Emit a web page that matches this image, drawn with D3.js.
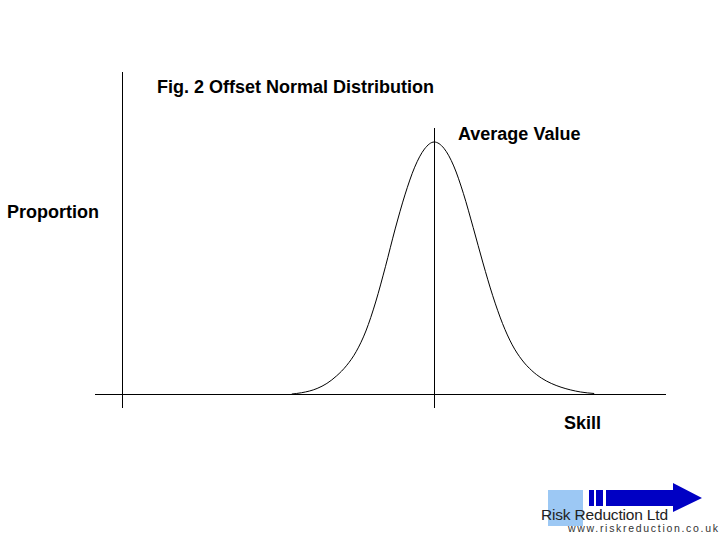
<!DOCTYPE html>
<html><head><meta charset="utf-8">
<script src="https://cdn.jsdelivr.net/npm/d3@7"></script>
<style>body{margin:0;background:#fff}svg{display:block}text{font-family:"Liberation Sans",Arial,sans-serif}</style>
</head><body>
<svg id="c" width="720" height="540"></svg>
<script>
// Skill (in standard deviations from the average) and proportion
const skill = [-3.65,-3.4,-3,-2.75,-2.5,-2.25,-2,-1.75,-1.5,-1.25,-1,-0.75,-0.5,-0.25,0,0.25,0.5,0.75,1,1.25,1.5,1.75,2,2.25,2.5,2.75,3,3.25,3.5,3.75,4.1];
const proportion = [0,0.005,0.022,0.042,0.072,0.112,0.168,0.25,0.365,0.505,0.655,0.79,0.9,0.972,1,0.975,0.905,0.795,0.66,0.52,0.39,0.28,0.195,0.135,0.093,0.063,0.042,0.027,0.016,0.008,0.002];
const averageValue = 0;
const labels = {title:"Fig. 2 Offset Normal Distribution", avg:"Average Value", y:"Proportion", x:"Skill"};

const svg = d3.select("#c");
const x = d3.scaleLinear().domain([-8, 5.94]).range([122, 666]);
const y = d3.scaleLinear().domain([0, 1]).range([394, 142]);

// axes
svg.append("line").attr("x1",122.5).attr("x2",122.5).attr("y1",72).attr("y2",408).attr("stroke","#000");
svg.append("line").attr("x1",95).attr("x2",666).attr("y1",y(0)+0.5).attr("y2",y(0)+0.5).attr("stroke","#000");
const ax = Math.round(x(averageValue))+0.5;
svg.append("line").attr("x1",ax).attr("x2",ax).attr("y1",128).attr("y2",408).attr("stroke","#000");

const line = d3.line().x((d,i)=>x(skill[i])).y(d=>y(d)).curve(d3.curveMonotoneX);
svg.append("path").attr("d", line(proportion)).attr("fill","none").attr("stroke","#000").attr("stroke-width",1);

const t = (s,xx,yy,sz,w)=>svg.append("text").text(s).attr("x",xx).attr("y",yy).attr("font-size",sz).attr("font-weight",w||"bold").attr("fill","#000");
t(labels.title,157,93,18);
t(labels.avg,458,140,18);
t(labels.y,7,218,18);
t(labels.x,564,429,18);

// logo
const g = svg.append("g");
g.append("rect").attr("x",548).attr("y",490).attr("width",35).attr("height",36).attr("fill","#9cc8f4");
g.append("rect").attr("x",589).attr("y",490).attr("width",5).attr("height",16).attr("fill","#0000c4");
g.append("rect").attr("x",596).attr("y",490).attr("width",7).attr("height",16).attr("fill","#0000c4");
g.append("path").attr("d","M606,490H673V483L702,498L673,512V506H606Z").attr("fill","#0000c4");
g.append("text").text("Risk Reduction Ltd").attr("x",541).attr("y",520).attr("font-size",15.5).attr("fill","#222").attr("textLength",127);
g.append("text").text("www.riskreduction.co.uk").attr("x",568).attr("y",532).attr("font-size",10.5).attr("font-family","DejaVu Sans Mono").attr("textLength",150).attr("fill","#333");
</script>
</body></html>
